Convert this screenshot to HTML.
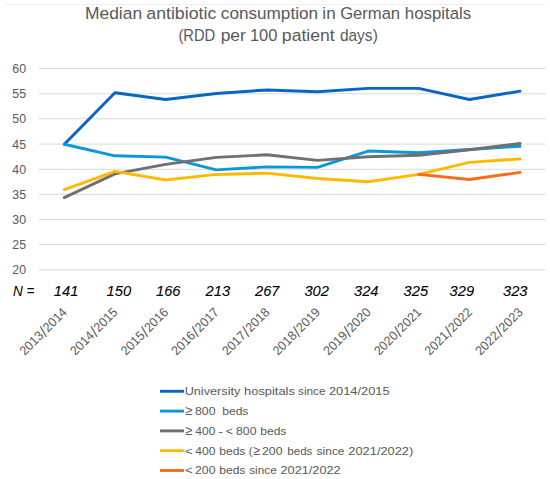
<!DOCTYPE html><html><head><meta charset="utf-8"><style>html,body{margin:0;padding:0;background:#fff;width:550px;height:479px;overflow:hidden}svg{display:block}text{font-family:"Liberation Sans",sans-serif}</style></head><body>
<svg width="550" height="479" viewBox="0 0 550 479">
<rect width="550" height="479" fill="#fff"/>
<line x1="5" y1="4.5" x2="545" y2="4.5" stroke="#F0F0F0" stroke-width="1"/>
<text x="85.01" y="19" font-size="16.3" fill="#595959" textLength="57.12" lengthAdjust="spacingAndGlyphs">Median</text>
<text x="146.29" y="19" font-size="16.3" fill="#595959" textLength="69.99" lengthAdjust="spacingAndGlyphs">antibiotic</text>
<text x="220.81" y="19" font-size="16.3" fill="#595959" textLength="97.30" lengthAdjust="spacingAndGlyphs">consumption</text>
<text x="322.39" y="19" font-size="16.3" fill="#595959" textLength="13.27" lengthAdjust="spacingAndGlyphs">in</text>
<text x="340.17" y="19" font-size="16.3" fill="#595959" textLength="59.95" lengthAdjust="spacingAndGlyphs">German</text>
<text x="404.82" y="19" font-size="16.3" fill="#595959" textLength="66.30" lengthAdjust="spacingAndGlyphs">hospitals</text>
<text x="178.42" y="41.2" font-size="16.3" fill="#595959" textLength="36.81" lengthAdjust="spacingAndGlyphs">(RDD</text>
<text x="220.67" y="41.2" font-size="16.3" fill="#595959" textLength="25.19" lengthAdjust="spacingAndGlyphs">per</text>
<text x="249.97" y="41.2" font-size="16.3" fill="#595959" textLength="27.47" lengthAdjust="spacingAndGlyphs">100</text>
<text x="281.86" y="41.2" font-size="16.3" fill="#595959" textLength="52.77" lengthAdjust="spacingAndGlyphs">patient</text>
<text x="339.88" y="41.2" font-size="16.3" fill="#595959" textLength="37.93" lengthAdjust="spacingAndGlyphs">days)</text>
<line x1="39" y1="68.50" x2="545.4" y2="68.50" stroke="#D9D9D9" stroke-width="1"/>
<text x="26" y="72.90" font-size="12.3" fill="#595959" text-anchor="end">60</text>
<line x1="39" y1="93.80" x2="545.4" y2="93.80" stroke="#D9D9D9" stroke-width="1"/>
<text x="26" y="98.20" font-size="12.3" fill="#595959" text-anchor="end">55</text>
<line x1="39" y1="118.80" x2="545.4" y2="118.80" stroke="#D9D9D9" stroke-width="1"/>
<text x="26" y="123.20" font-size="12.3" fill="#595959" text-anchor="end">50</text>
<line x1="39" y1="144.10" x2="545.4" y2="144.10" stroke="#D9D9D9" stroke-width="1"/>
<text x="26" y="148.50" font-size="12.3" fill="#595959" text-anchor="end">45</text>
<line x1="39" y1="169.30" x2="545.4" y2="169.30" stroke="#D9D9D9" stroke-width="1"/>
<text x="26" y="173.70" font-size="12.3" fill="#595959" text-anchor="end">40</text>
<line x1="39" y1="194.40" x2="545.4" y2="194.40" stroke="#D9D9D9" stroke-width="1"/>
<text x="26" y="198.80" font-size="12.3" fill="#595959" text-anchor="end">35</text>
<line x1="39" y1="219.50" x2="545.4" y2="219.50" stroke="#D9D9D9" stroke-width="1"/>
<text x="26" y="223.90" font-size="12.3" fill="#595959" text-anchor="end">30</text>
<line x1="39" y1="244.50" x2="545.4" y2="244.50" stroke="#D9D9D9" stroke-width="1"/>
<text x="26" y="248.90" font-size="12.3" fill="#595959" text-anchor="end">25</text>
<line x1="39" y1="269.90" x2="545.4" y2="269.90" stroke="#D9D9D9" stroke-width="1"/>
<text x="26" y="274.30" font-size="12.3" fill="#595959" text-anchor="end">20</text>
<polyline points="64.30,144.25 114.94,92.69 165.58,99.48 216.22,93.45 266.86,89.93 317.50,91.69 368.14,88.42 418.78,88.42 469.42,99.48 520.06,91.18" fill="none" stroke="#0766C4" stroke-width="2.9" stroke-linejoin="round" stroke-linecap="round"/>
<polyline points="64.30,144.25 114.94,155.82 165.58,157.08 216.22,169.90 266.86,166.88 317.50,167.39 368.14,151.04 418.78,152.80 469.42,149.53 520.06,146.26" fill="none" stroke="#0A98DA" stroke-width="2.9" stroke-linejoin="round" stroke-linecap="round"/>
<polyline points="64.30,197.57 114.94,173.93 165.58,164.37 216.22,157.33 266.86,154.81 317.50,160.35 368.14,156.82 418.78,155.32 469.42,149.78 520.06,143.50" fill="none" stroke="#707070" stroke-width="2.9" stroke-linejoin="round" stroke-linecap="round"/>
<polyline points="64.30,189.52 114.94,171.41 165.58,179.96 216.22,174.43 266.86,173.17 317.50,178.45 368.14,181.72 418.78,174.43 469.42,162.36 520.06,158.84" fill="none" stroke="#FFB900" stroke-width="2.9" stroke-linejoin="round" stroke-linecap="round"/>
<polyline points="418.78,174.43 469.42,179.46 520.06,172.42" fill="none" stroke="#F76B1C" stroke-width="2.9" stroke-linejoin="round" stroke-linecap="round"/>
<text x="13.0" y="295.5" font-size="14.7" font-style="italic" fill="#000" textLength="21.5" lengthAdjust="spacingAndGlyphs">N =</text>
<text x="53.80" y="295.6" font-size="14.7" font-style="italic" fill="#000" stroke="#000" stroke-width="0.08">141</text>
<text x="106.60" y="295.6" font-size="14.7" font-style="italic" fill="#000" stroke="#000" stroke-width="0.08">150</text>
<text x="156.00" y="295.6" font-size="14.7" font-style="italic" fill="#000" stroke="#000" stroke-width="0.08">166</text>
<text x="205.60" y="295.6" font-size="14.7" font-style="italic" fill="#000" stroke="#000" stroke-width="0.08">213</text>
<text x="255.00" y="295.6" font-size="14.7" font-style="italic" fill="#000" stroke="#000" stroke-width="0.08">267</text>
<text x="304.40" y="295.6" font-size="14.7" font-style="italic" fill="#000" stroke="#000" stroke-width="0.08">302</text>
<text x="354.00" y="295.6" font-size="14.7" font-style="italic" fill="#000" stroke="#000" stroke-width="0.08">324</text>
<text x="403.60" y="295.6" font-size="14.7" font-style="italic" fill="#000" stroke="#000" stroke-width="0.08">325</text>
<text x="449.60" y="295.6" font-size="14.7" font-style="italic" fill="#000" stroke="#000" stroke-width="0.08">329</text>
<text x="503.00" y="295.6" font-size="14.7" font-style="italic" fill="#000" stroke="#000" stroke-width="0.08">323</text>
<g transform="rotate(-45 67.80 313)" fill="#595959" font-size="12.9"><text x="6.82" y="313" textLength="27.84" lengthAdjust="spacingAndGlyphs">2013</text><text x="37.31" y="314.6" font-size="16" text-anchor="middle">/</text><text x="39.96" y="313" textLength="27.84" lengthAdjust="spacingAndGlyphs">2014</text></g>
<g transform="rotate(-45 118.44 313)" fill="#595959" font-size="12.9"><text x="57.46" y="313" textLength="27.84" lengthAdjust="spacingAndGlyphs">2014</text><text x="87.95" y="314.6" font-size="16" text-anchor="middle">/</text><text x="90.60" y="313" textLength="27.84" lengthAdjust="spacingAndGlyphs">2015</text></g>
<g transform="rotate(-45 169.08 313)" fill="#595959" font-size="12.9"><text x="108.10" y="313" textLength="27.84" lengthAdjust="spacingAndGlyphs">2015</text><text x="138.59" y="314.6" font-size="16" text-anchor="middle">/</text><text x="141.24" y="313" textLength="27.84" lengthAdjust="spacingAndGlyphs">2016</text></g>
<g transform="rotate(-45 219.72 313)" fill="#595959" font-size="12.9"><text x="158.74" y="313" textLength="27.84" lengthAdjust="spacingAndGlyphs">2016</text><text x="189.23" y="314.6" font-size="16" text-anchor="middle">/</text><text x="191.88" y="313" textLength="27.84" lengthAdjust="spacingAndGlyphs">2017</text></g>
<g transform="rotate(-45 270.36 313)" fill="#595959" font-size="12.9"><text x="209.38" y="313" textLength="27.84" lengthAdjust="spacingAndGlyphs">2017</text><text x="239.87" y="314.6" font-size="16" text-anchor="middle">/</text><text x="242.52" y="313" textLength="27.84" lengthAdjust="spacingAndGlyphs">2018</text></g>
<g transform="rotate(-45 321.00 313)" fill="#595959" font-size="12.9"><text x="260.02" y="313" textLength="27.84" lengthAdjust="spacingAndGlyphs">2018</text><text x="290.51" y="314.6" font-size="16" text-anchor="middle">/</text><text x="293.16" y="313" textLength="27.84" lengthAdjust="spacingAndGlyphs">2019</text></g>
<g transform="rotate(-45 371.64 313)" fill="#595959" font-size="12.9"><text x="310.66" y="313" textLength="27.84" lengthAdjust="spacingAndGlyphs">2019</text><text x="341.15" y="314.6" font-size="16" text-anchor="middle">/</text><text x="343.80" y="313" textLength="27.84" lengthAdjust="spacingAndGlyphs">2020</text></g>
<g transform="rotate(-45 422.28 313)" fill="#595959" font-size="12.9"><text x="361.30" y="313" textLength="27.84" lengthAdjust="spacingAndGlyphs">2020</text><text x="391.79" y="314.6" font-size="16" text-anchor="middle">/</text><text x="394.44" y="313" textLength="27.84" lengthAdjust="spacingAndGlyphs">2021</text></g>
<g transform="rotate(-45 472.92 313)" fill="#595959" font-size="12.9"><text x="411.94" y="313" textLength="27.84" lengthAdjust="spacingAndGlyphs">2021</text><text x="442.43" y="314.6" font-size="16" text-anchor="middle">/</text><text x="445.08" y="313" textLength="27.84" lengthAdjust="spacingAndGlyphs">2022</text></g>
<g transform="rotate(-45 523.56 313)" fill="#595959" font-size="12.9"><text x="462.58" y="313" textLength="27.84" lengthAdjust="spacingAndGlyphs">2022</text><text x="493.07" y="314.6" font-size="16" text-anchor="middle">/</text><text x="495.72" y="313" textLength="27.84" lengthAdjust="spacingAndGlyphs">2023</text></g>
<line x1="160" y1="391.30" x2="184" y2="391.30" stroke="#0766C4" stroke-width="2.9"/>
<text x="184.65" y="395.10" font-size="11.6" fill="#595959" textLength="55.75" lengthAdjust="spacingAndGlyphs">University</text>
<text x="244.10" y="395.10" font-size="11.6" fill="#595959" textLength="50.77" lengthAdjust="spacingAndGlyphs">hospitals</text>
<text x="298.05" y="395.10" font-size="11.6" fill="#595959" textLength="27.48" lengthAdjust="spacingAndGlyphs">since</text>
<text x="328.96" y="395.10" font-size="11.6" fill="#595959" textLength="60.58" lengthAdjust="spacingAndGlyphs">2014/2015</text>
<line x1="160" y1="411.10" x2="184" y2="411.10" stroke="#0A98DA" stroke-width="2.9"/>
<text x="185.21" y="414.90" font-size="13.3" fill="#595959" textLength="7.17" lengthAdjust="spacingAndGlyphs">≥</text>
<text x="195.05" y="414.90" font-size="11.6" fill="#595959" textLength="20.42" lengthAdjust="spacingAndGlyphs">800</text>
<text x="222.21" y="414.90" font-size="11.6" fill="#595959" textLength="26.19" lengthAdjust="spacingAndGlyphs">beds</text>
<line x1="160" y1="430.90" x2="184" y2="430.90" stroke="#707070" stroke-width="2.9"/>
<text x="185.21" y="434.70" font-size="13.3" fill="#595959" textLength="7.17" lengthAdjust="spacingAndGlyphs">≥</text>
<text x="195.36" y="434.70" font-size="11.6" fill="#595959" textLength="20.11" lengthAdjust="spacingAndGlyphs">400</text>
<text x="218.38" y="434.70" font-size="11.6" fill="#595959" textLength="4.62" lengthAdjust="spacingAndGlyphs">-</text>
<text x="225.78" y="434.70" font-size="11.6" fill="#595959" textLength="7.22" lengthAdjust="spacingAndGlyphs">&lt;</text>
<text x="236.05" y="434.70" font-size="11.6" fill="#595959" textLength="20.42" lengthAdjust="spacingAndGlyphs">800</text>
<text x="260.21" y="434.70" font-size="11.6" fill="#595959" textLength="26.19" lengthAdjust="spacingAndGlyphs">beds</text>
<line x1="160" y1="450.70" x2="184" y2="450.70" stroke="#FFB900" stroke-width="2.9"/>
<text x="184.94" y="454.50" font-size="11.6" fill="#595959" textLength="7.71" lengthAdjust="spacingAndGlyphs">&lt;</text>
<text x="195.36" y="454.50" font-size="11.6" fill="#595959" textLength="20.11" lengthAdjust="spacingAndGlyphs">400</text>
<text x="219.21" y="454.50" font-size="11.6" fill="#595959" textLength="26.19" lengthAdjust="spacingAndGlyphs">beds</text>
<text x="248.82" y="454.50" font-size="11.6" fill="#595959" textLength="3.77" lengthAdjust="spacingAndGlyphs">(</text>
<text x="253.13" y="454.50" font-size="13.3" fill="#595959" textLength="6.72" lengthAdjust="spacingAndGlyphs">≥</text>
<text x="261.99" y="454.50" font-size="11.6" fill="#595959" textLength="20.49" lengthAdjust="spacingAndGlyphs">200</text>
<text x="287.25" y="454.50" font-size="11.6" fill="#595959" textLength="25.14" lengthAdjust="spacingAndGlyphs">beds</text>
<text x="316.64" y="454.50" font-size="11.6" fill="#595959" textLength="27.89" lengthAdjust="spacingAndGlyphs">since</text>
<text x="348.36" y="454.50" font-size="11.6" fill="#595959" textLength="64.88" lengthAdjust="spacingAndGlyphs">2021/2022)</text>
<line x1="160" y1="470.50" x2="184" y2="470.50" stroke="#F76B1C" stroke-width="2.9"/>
<text x="184.94" y="474.30" font-size="11.6" fill="#595959" textLength="7.71" lengthAdjust="spacingAndGlyphs">&lt;</text>
<text x="194.99" y="474.30" font-size="11.6" fill="#595959" textLength="20.49" lengthAdjust="spacingAndGlyphs">200</text>
<text x="219.21" y="474.30" font-size="11.6" fill="#595959" textLength="26.19" lengthAdjust="spacingAndGlyphs">beds</text>
<text x="249.15" y="474.30" font-size="11.6" fill="#595959" textLength="27.58" lengthAdjust="spacingAndGlyphs">since</text>
<text x="280.56" y="474.30" font-size="11.6" fill="#595959" textLength="60.10" lengthAdjust="spacingAndGlyphs">2021/2022</text>
</svg></body></html>
